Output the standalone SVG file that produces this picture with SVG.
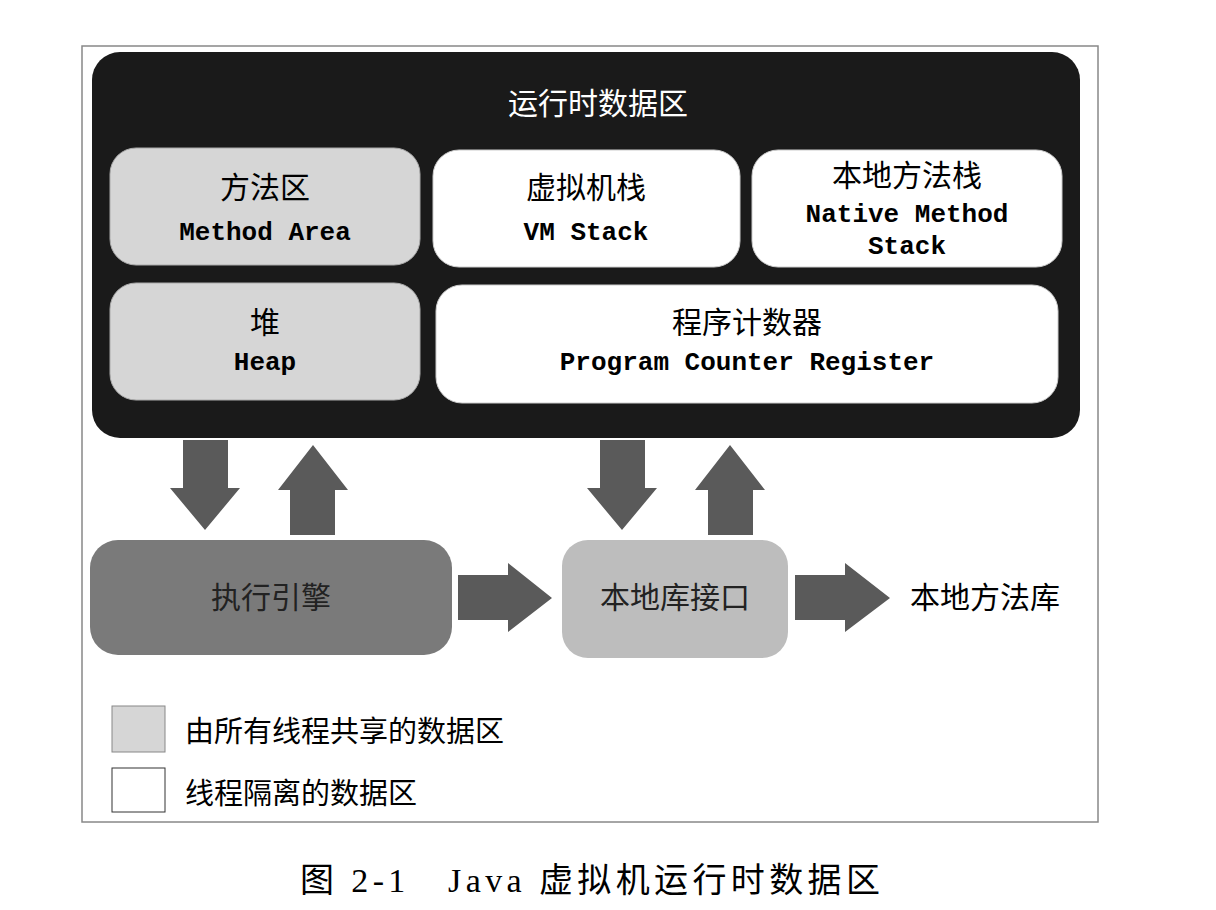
<svg xmlns="http://www.w3.org/2000/svg" width="1216" height="910" viewBox="0 0 1216 910">
<style>
.cn{font-family:"Liberation Sans","Noto Sans CJK SC",sans-serif;}
.mono{font-family:"Liberation Mono","DejaVu Sans Mono",monospace;font-weight:bold;}
.sh{fill:#d6d6d6;stroke:#aaa;stroke-width:1}
.pr{fill:#ffffff;stroke:#ccc;stroke-width:1}
.arr{fill:#5a5a5a}
</style>
<rect width="1216" height="910" fill="#fff"/>
<rect x="82" y="46" width="1016" height="776" fill="none" stroke="#888" stroke-width="1.5"/>
<g id="runtime">
<rect x="92" y="52" width="988" height="386" rx="28" fill="#1a1a1a"/>
<text x="598" y="114" class="cn" font-size="30" fill="#fff" text-anchor="middle">运行时数据区</text>
</g>
<g id="method-area"><rect class="sh" x="110" y="148" width="310" height="117" rx="26"/>
<text x="265" y="198" class="cn" font-size="30" text-anchor="middle">方法区</text>
<text x="265" y="240" class="mono" font-size="26" text-anchor="middle">Method Area</text></g>
<g id="vm-stack"><rect class="pr" x="433" y="150" width="307" height="117" rx="26"/>
<text x="586" y="198" class="cn" font-size="30" text-anchor="middle">虚拟机栈</text>
<text x="586" y="240" class="mono" font-size="26" text-anchor="middle">VM Stack</text></g>
<g id="native-stack"><rect class="pr" x="752" y="150" width="310" height="117" rx="26"/>
<text x="907" y="186" class="cn" font-size="30" text-anchor="middle">本地方法栈</text>
<text x="907" y="222" class="mono" font-size="26" text-anchor="middle">Native Method</text>
<text x="907" y="254" class="mono" font-size="26" text-anchor="middle">Stack</text></g>
<g id="heap"><rect class="sh" x="110" y="283" width="310" height="117" rx="26"/>
<text x="265" y="333" class="cn" font-size="30" text-anchor="middle">堆</text>
<text x="265" y="370" class="mono" font-size="26" text-anchor="middle">Heap</text></g>
<g id="pc"><rect class="pr" x="436" y="285" width="622" height="118" rx="26"/>
<text x="747" y="333" class="cn" font-size="30" text-anchor="middle">程序计数器</text>
<text x="747" y="370" class="mono" font-size="26" text-anchor="middle">Program Counter Register</text></g>
<g id="connectors">
<polygon class="arr" points="183,440 228,440 228,488 240,488 205,530 170,488 183,488"/>
<polygon class="arr" points="290,535 335,535 335,490 348,490 313,445 278,490 290,490"/>
<polygon class="arr" points="600,440 645,440 645,488 657,488 622,530 587,488 600,488"/>
<polygon class="arr" points="708,535 753,535 753,490 765,490 730,445 695,490 708,490"/>
<polygon class="arr" points="458,575 508,575 508,563 552,598 508,632 508,620 458,620"/>
<polygon class="arr" points="795,575 845,575 845,563 890,598 845,632 845,620 795,620"/>
</g>
<g id="exec-engine"><rect x="90" y="540" width="362" height="115" rx="28" fill="#7a7a7a"/>
<text x="271" y="608" class="cn" font-size="30" fill="#222" text-anchor="middle">执行引擎</text></g>
<g id="native-iface"><rect x="562" y="540" width="226" height="118" rx="26" fill="#bdbdbd"/>
<text x="675" y="608" class="cn" font-size="30" fill="#222" text-anchor="middle">本地库接口</text></g>
<g id="native-lib"><text x="910" y="608" class="cn" font-size="30">本地方法库</text></g>
<g id="legend">
<rect x="112" y="706" width="53" height="46" fill="#d6d6d6" stroke="#888"/>
<text x="185" y="742" class="cn" font-size="29">由所有线程共享的数据区</text>
<rect x="112" y="768" width="53" height="44" fill="#fff" stroke="#333"/>
<text x="185" y="804" class="cn" font-size="29">线程隔离的数据区</text>
</g>
<text x="590" y="892" font-family="Liberation Serif,'Noto Sans CJK SC',serif" font-size="34" text-anchor="middle" textLength="580" lengthAdjust="spacing">图 2-1　Java 虚拟机运行时数据区</text>
</svg>
